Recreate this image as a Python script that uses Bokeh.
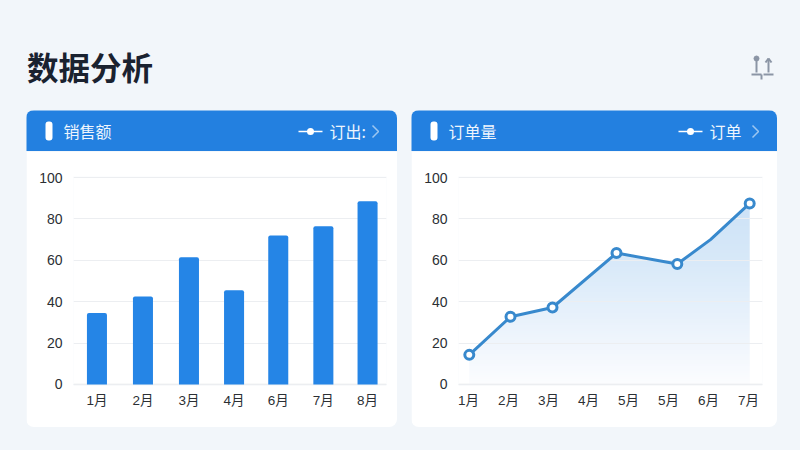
import numpy as np
from bokeh.embed import file_html
from bokeh.resources import INLINE
from bokeh.layouts import column, row
from bokeh.models import FixedTicker, Label, Range1d, Spacer
from bokeh.plotting import figure

# ---- data ----
page_title = "数据分析"
sales_title = "销售额"
sales_legend = "订出:"
sales_months = ["1月", "2月", "3月", "4月", "6月", "7月", "8月"]
sales_x = [0, 1.02, 2.04, 3.04, 4.02, 5.02, 6]
sales_values = [34.5, 42.5, 61.5, 45.5, 72, 76.5, 88.5]

orders_title = "订单量"
orders_legend = "订单"
orders_months = ["1月", "2月", "3月", "4月", "5月", "5月", "6月", "7月"]
orders_ticks = [0, 1, 2, 3, 4, 5, 6, 7]
orders_x = [0.02, 1.05, 2.1, 3.7, 5.22, 6.05, 7.03]
orders_values = [14.3, 32.7, 37.2, 63.5, 58.2, 70, 87.5]
y_ticks = [0, 20, 40, 60, 80, 100]

# ---- style ----
PAGE = "#f2f6fa"
BLUE = "#2380e0"
BAR = "#2585e6"
LINE = "#3889cd"
GRID = "#eceef1"
BASE = "#e3e5e8"
TEXT = "#2b2f34"
HEAD_TEXT = "#eef5fd"
LATIN = "Liberation Sans, Noto Sans CJK SC"
CJK = "Noto Sans CJK SC"
HEAD_H = 41
BODY_H = 276


def header(width, title, legend):
    h = figure(width=width, height=HEAD_H, output_backend="svg", toolbar_location=None,
               x_range=Range1d(0, width), y_range=Range1d(HEAD_H, 0), min_border=0,
               outline_line_color=None, background_fill_color=BLUE, border_fill_color=BLUE,
               frame_align=False)
    h.styles = {"border-radius": "8px 8px 0 0", "overflow": "hidden"}
    h.axis.visible = False
    h.grid.visible = False
    e = width
    h.quad(left=[19], right=[26], top=[11], bottom=[30], fill_color="white", line_color=None,
           border_radius=3)
    h.add_layout(Label(x=37, y=20, text=title, text_color=HEAD_TEXT, text_font=CJK,
                       text_font_size="16px", text_baseline="middle"))
    h.segment([e - 99], [21], [e - 75], [21], line_color="white", line_width=1.5)
    h.scatter([e - 87], [21], size=7, fill_color="white", line_color=None)
    h.add_layout(Label(x=e - 68, y=20, text=legend, text_color=HEAD_TEXT, text_font=CJK,
                       text_font_size="16px", text_baseline="middle"))
    h.line([e - 25, e - 19, e - 25], [15, 21, 27], line_color="#9cc6f1", line_width=1.5)
    return h


def chart(width, frame_left, frame_right, x_start, x_end, ticks, months):
    p = figure(width=width, height=BODY_H, output_backend="svg", toolbar_location=None,
               x_range=Range1d(x_start, x_end), y_range=Range1d(-0.5, 100.5),
               min_border_left=frame_left, min_border_right=frame_right,
               min_border_top=25, min_border_bottom=42,
               background_fill_color="white", border_fill_color="white",
               outline_line_color=None, frame_align=False)
    p.styles = {"border-radius": "0 0 8px 8px", "overflow": "hidden"}
    p.yaxis.ticker = FixedTicker(ticks=y_ticks)
    p.xaxis.ticker = FixedTicker(ticks=ticks)
    p.xaxis.major_label_overrides = dict(zip(ticks, months))
    for ax, size, standoff in ((p.xaxis, "13.5px", 1), (p.yaxis, "14px", 5)):
        ax.axis_line_color = None
        ax.major_tick_line_color = None
        ax.minor_tick_line_color = None
        ax.major_label_text_color = TEXT
        ax.major_label_text_font = LATIN
        ax.major_label_text_font_size = size
        ax.major_label_standoff = standoff
    p.xgrid.visible = False
    p.ygrid.ticker = FixedTicker(ticks=y_ticks)
    p.ygrid.grid_line_color = GRID
    p.hspan(y=[0], line_color=BASE, line_width=1.5, level="underlay")
    return p


# ---- top strip ----
top = figure(width=784, height=102, output_backend="svg", toolbar_location=None,
             x_range=Range1d(0, 784), y_range=Range1d(102, 0),
             min_border=0, outline_line_color=None,
             background_fill_color=PAGE, border_fill_color=PAGE)
top.axis.visible = False
top.grid.visible = False
top.add_layout(Label(x=18.5, y=57, text=page_title, text_color="#1a2230", text_font=CJK,
                     text_font_size="31.5px", text_font_style="bold", text_baseline="middle"))
ICON = "#8b95a5"
top.segment([748, 760, 743, 755, 753], [50, 50, 66, 66, 66],
            [748, 760, 753, 765, 753], [64, 64, 66, 66, 71],
            line_color=ICON, line_width=2)
top.segment([757, 763], [54, 54], [760, 760], [50, 50], line_color=ICON, line_width=2)
top.scatter([748], [50], size=5, color=ICON)

# ---- sales ----
left = chart(371, 47, 11, -0.52, 6.42, sales_x, sales_months)
left.vbar(x=sales_x, top=sales_values, bottom=0, width=0.444,
          fill_color=BAR, line_color=None,
          border_radius={"top_left": 2, "top_right": 2, "bottom_left": 0, "bottom_right": 0})

# ---- orders ----
right = chart(366, 47, 15, -0.25, 7.35, orders_ticks, orders_months)
stops_y = [0, 20, 60, 90]
stops_r = [252, 240, 216, 204]
stops_g = [253, 246, 233, 226]
stops_b = [255, 253, 249, 247]
rows = np.linspace(0, 90, 90)
grad = np.empty((90, 1, 4), dtype=np.uint8)
grad[:, 0, 0] = np.interp(rows, stops_y, stops_r)
grad[:, 0, 1] = np.interp(rows, stops_y, stops_g)
grad[:, 0, 2] = np.interp(rows, stops_y, stops_b)
grad[:, 0, 3] = 255
img = grad.view(np.uint32).reshape(90, 1)
right.image_rgba(image=[img], x=orders_x[0], y=0, dw=orders_x[-1] - orders_x[0], dh=90, level="image")
# white cover above the curve leaves the gradient only under the line
mask_x = [orders_x[0] - 0.1] + orders_x + [orders_x[-1] + 0.1]
mask_y = [orders_values[0]] + orders_values + [orders_values[-1]]
right.varea(x=mask_x, y1=mask_y, y2=[100] * len(mask_x), fill_color="white", level="image")
right.line(orders_x, orders_values, line_color=LINE, line_width=3)
right.scatter(orders_x[:5] + orders_x[6:], orders_values[:5] + orders_values[6:], size=9,
              fill_color="white", line_color=LINE, line_width=3)

card_l = column(header(371, sales_title, sales_legend), left, spacing=0)
card_r = column(header(366, orders_title, orders_legend), right, spacing=0)
layout = column(top,
                row(Spacer(width=18, height=10), card_l, Spacer(width=14, height=10), card_r, spacing=0),
                spacing=0)

html = file_html(layout, INLINE)
html = html.replace("</head>", "<style>html,body{background:%s;overflow:hidden}body{margin:8px}</style></head>" % PAGE)
open("out.html", "w").write(html)
